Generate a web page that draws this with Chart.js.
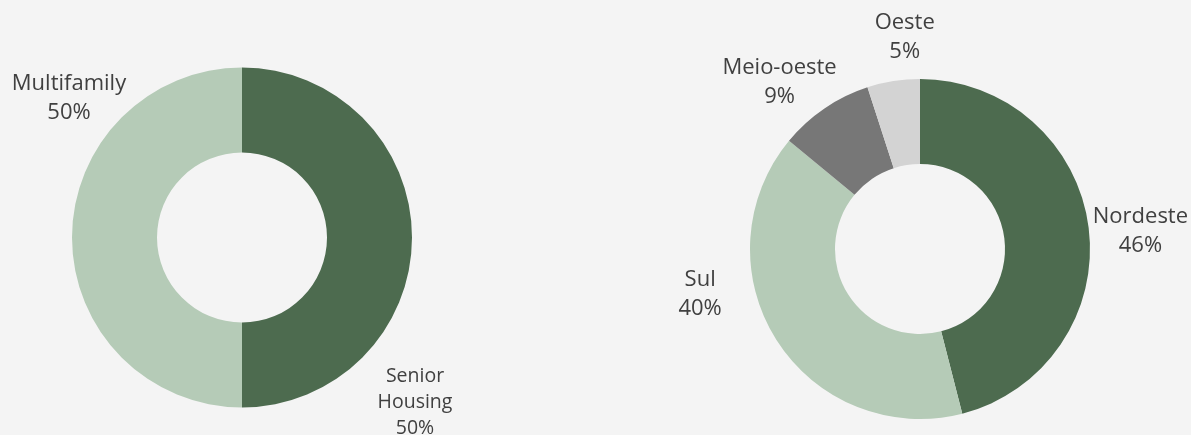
<!DOCTYPE html>
<html>
<head>
<meta charset="utf-8">
<script src="https://cdn.jsdelivr.net/npm/chart.js@4"></script>
<style>
  html, body { margin: 0; padding: 0; background: #f4f4f4; }
  #wrap { position: relative; width: 1191px; height: 435px; }
  .box { position: absolute; top: 0; height: 435px; }
  #box-tipo { left: 0; width: 595px; }
  #box-regiao { left: 595px; width: 596px; }
</style>
</head>
<body>
<div id="wrap">
  <div class="box" id="box-tipo"><canvas id="grafico-tipo"></canvas></div>
  <div class="box" id="box-regiao"><canvas id="grafico-regiao"></canvas></div>
</div>
<script>
// Dados do gráfico da esquerda (tipo de ativo)
const tipoLabels = ['Senior Housing', 'Multifamily'];
const tipoValores = [50, 50];
const tipoCores = ['#4d6b4f', '#b5cbb7'];

// Dados do gráfico da direita (região)
const regiaoLabels = ['Nordeste', 'Sul', 'Meio-oeste', 'Oeste'];
const regiaoValores = [46, 40, 9, 5];
const regiaoCores = ['#4d6b4f', '#b5cbb7', '#777777', '#d3d3d3'];

const corTexto = '#404040';
const familiaFonte = '"Open Sans", "Noto Sans", sans-serif';

// Plugin para desenhar os rótulos fora das fatias (nome + porcentagem)
const rotulosExternos = {
    id: 'rotulosExternos',
    afterDatasetsDraw(chart, args, opts) {
        const ctx = chart.ctx;
        const meta = chart.getDatasetMeta(0);
        const valores = chart.data.datasets[0].data;
        const total = valores.reduce((a, b) => a + b, 0);
        ctx.save();
        ctx.fillStyle = corTexto;
        ctx.textAlign = 'center';
        ctx.textBaseline = 'middle';
        meta.data.forEach((arco, i) => {
            const meio = (arco.startAngle + arco.endAngle) / 2;
            const r = arco.outerRadius + 30;
            const ajuste = opts.ajustes[i] || [0, 0];
            const tam = (opts.tamanhos && opts.tamanhos[i]) || 22;
            ctx.font = tam + 'px ' + familiaFonte;
            const x = arco.x + Math.cos(meio) * r + ajuste[0];
            const y = arco.y + Math.sin(meio) * r + ajuste[1];
            const linhas = opts.quebras[i] || [chart.data.labels[i]];
            const pct = Math.round(valores[i] / total * 100) + '%';
            const todas = linhas.concat([pct]);
            const alt = Math.round(tam * 1.32);
            const y0 = y - (todas.length - 1) * alt / 2;
            todas.forEach((t, k) => ctx.fillText(t, x, y0 + k * alt));
        });
        ctx.restore();
    }
};

function criarRosca(id, labels, valores, cores, padding, ajustes, quebras, tamanhos) {
    return new Chart(document.getElementById(id), {
        type: 'doughnut',
        data: {
            labels: labels,
            datasets: [{
                data: valores,
                backgroundColor: cores,
                borderWidth: 0
            }]
        },
        options: {
            responsive: true,
            maintainAspectRatio: false,
            animation: false,
            cutout: '50%',
            layout: { padding: padding },
            plugins: {
                legend: { display: false },
                tooltip: { enabled: false },
                rotulosExternos: { ajustes: ajustes, quebras: quebras, tamanhos: tamanhos }
            }
        },
        plugins: [rotulosExternos]
    });
}

criarRosca('grafico-tipo', tipoLabels, tipoValores, tipoCores,
    { left: 72, right: 183, top: 67, bottom: 27 },
    [[-27, 165], [27, -139]],
    [['Senior', 'Housing'], null],
    [19.5, 22]);

criarRosca('grafico-regiao', regiaoLabels, regiaoValores, regiaoCores,
    { left: 155, right: 101, top: 79, bottom: 16 },
    [[22, 7], [-51, -62], [-28, -1], [16, -14]],
    [null, null, null, null],
    [22, 22, 22, 22]);
</script>
</body>
</html>
